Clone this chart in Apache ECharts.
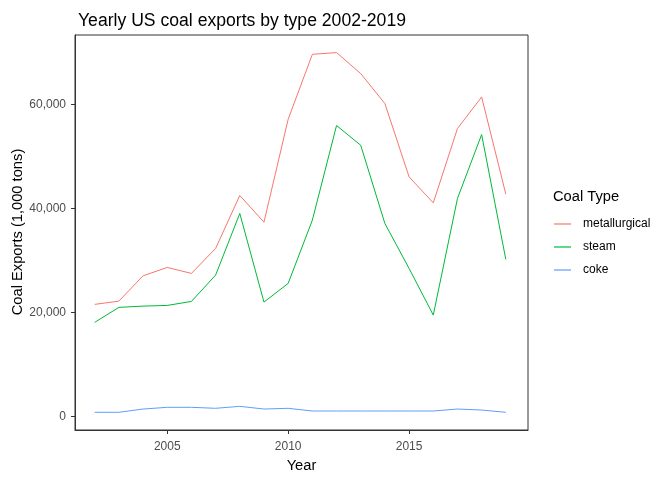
<!DOCTYPE html>
<html>
<head>
<meta charset="utf-8">
<script src="https://cdn.jsdelivr.net/npm/echarts@6/dist/echarts.min.js"></script>
<style>
  html, body { margin: 0; padding: 0; background: #fff; }
  #chart { width: 672px; height: 480px; }
</style>
</head>
<body>
<div id="chart"></div>
<script>
// data
var years = [2002, 2003, 2004, 2005, 2006, 2007, 2008, 2009, 2010,
             2011, 2012, 2013, 2014, 2015, 2016, 2017, 2018, 2019]
var metallurgical = [21540, 22170, 27040, 28650, 27500, 32300, 42500, 37360, 57170,
                     69670, 70000, 65960, 60190, 46080, 41080, 55380, 61460, 42750]
var steam = [18080, 20960, 21210, 21340, 22110, 27170, 39040, 21980, 25580,
             37750, 55960, 52170, 37110, 28460, 19480, 41920, 54230, 30190]
var coke = [770, 770, 1400, 1730, 1730, 1540, 1920, 1400, 1540,
            1020, 1020, 1020, 1020, 1020, 1020, 1400, 1210, 770]
var xTicks = [2005, 2010, 2015]
var yTicks = [0, 20000, 40000, 60000]

var seriesNames = ['metallurgical', 'steam', 'coke']
var seriesColors = ['#F8766D', '#00BA38', '#619CFF']
var seriesValues = [metallurgical, steam, coke]

function pairs (values) {
    return years.map(function (y, i) { return [y, values[i]] })
}

var font = 'Liberation Sans, Arial, sans-serif'
var axisGrey = '#333333'

var chart = echarts.init(document.getElementById('chart'), null, { renderer: 'canvas' })

chart.setOption({
    animation: false,
    backgroundColor: '#fff',
    title: {
        text: 'Yearly US coal exports by type 2002-2019',
        left: 73,
        top: 7,
        textStyle: { fontFamily: font, fontSize: 17.6, fontWeight: 'normal', color: '#000' }
    },
    grid: {
        left: 75,
        right: 144,
        top: 35,
        bottom: 50,
        outerBoundsMode: 'none',
        containLabel: false,
        show: true,
        borderColor: axisGrey,
        borderWidth: 1,
        backgroundColor: 'transparent'
    },
    legend: {
        orient: 'vertical',
        left: 549,
        top: 212,
        icon: 'rect',
        itemWidth: 17,
        itemHeight: 1.2,
        itemGap: 9,
        data: seriesNames,
        textStyle: { fontFamily: font, fontSize: 12, color: '#000', lineHeight: 14, padding: [0, 0, 0, 7] }
    },
    graphic: [{
        type: 'text',
        left: 553,
        top: 189,
        style: { text: 'Coal Type', font: '14.7px ' + font, fill: '#000' }
    }, {
        // y axis title, placed by hand so label overlap logic can't move it
        type: 'text',
        x: 18,
        y: 232,
        rotation: Math.PI / 2,
        style: {
            text: 'Coal Exports (1,000 tons)',
            font: '14.7px ' + font,
            fill: '#000',
            align: 'center',
            verticalAlign: 'middle'
        }
    }],
    xAxis: {
        type: 'value',
        min: 2001.186,
        max: 2019.917,
        name: 'Year',
        nameLocation: 'middle',
        nameGap: 28,
        nameTextStyle: { fontFamily: font, fontSize: 14.7, color: '#000' },
        splitLine: { show: false },
        axisLine: { show: true, onZero: false, lineStyle: { color: axisGrey, width: 1 } },
        axisTick: { show: true, length: 4, customValues: xTicks, lineStyle: { color: axisGrey, width: 1 } },
        axisLabel: {
            customValues: xTicks,
            margin: 11,
            fontFamily: font,
            fontSize: 12,
            color: '#4D4D4D',
            formatter: function (v) { return String(v) }
        }
    },
    yAxis: {
        type: 'value',
        min: -2635,
        max: 73385,
        splitLine: { show: false },
        axisLine: { show: true, onZero: false, lineStyle: { color: axisGrey, width: 1 } },
        axisTick: { show: true, length: 4, customValues: yTicks, lineStyle: { color: axisGrey, width: 1 } },
        axisLabel: {
            customValues: yTicks,
            margin: 9,
            fontFamily: font,
            fontSize: 12,
            color: '#4D4D4D',
            formatter: function (v) { return Number(v).toLocaleString('en-US') }
        }
    },
    series: seriesNames.map(function (name, i) {
        return {
            name: name,
            type: 'line',
            data: pairs(seriesValues[i]),
            showSymbol: false,
            color: seriesColors[i],
            lineStyle: { width: 1, color: seriesColors[i] },
            itemStyle: { color: seriesColors[i] }
        }
    })
})
</script>
</body>
</html>
